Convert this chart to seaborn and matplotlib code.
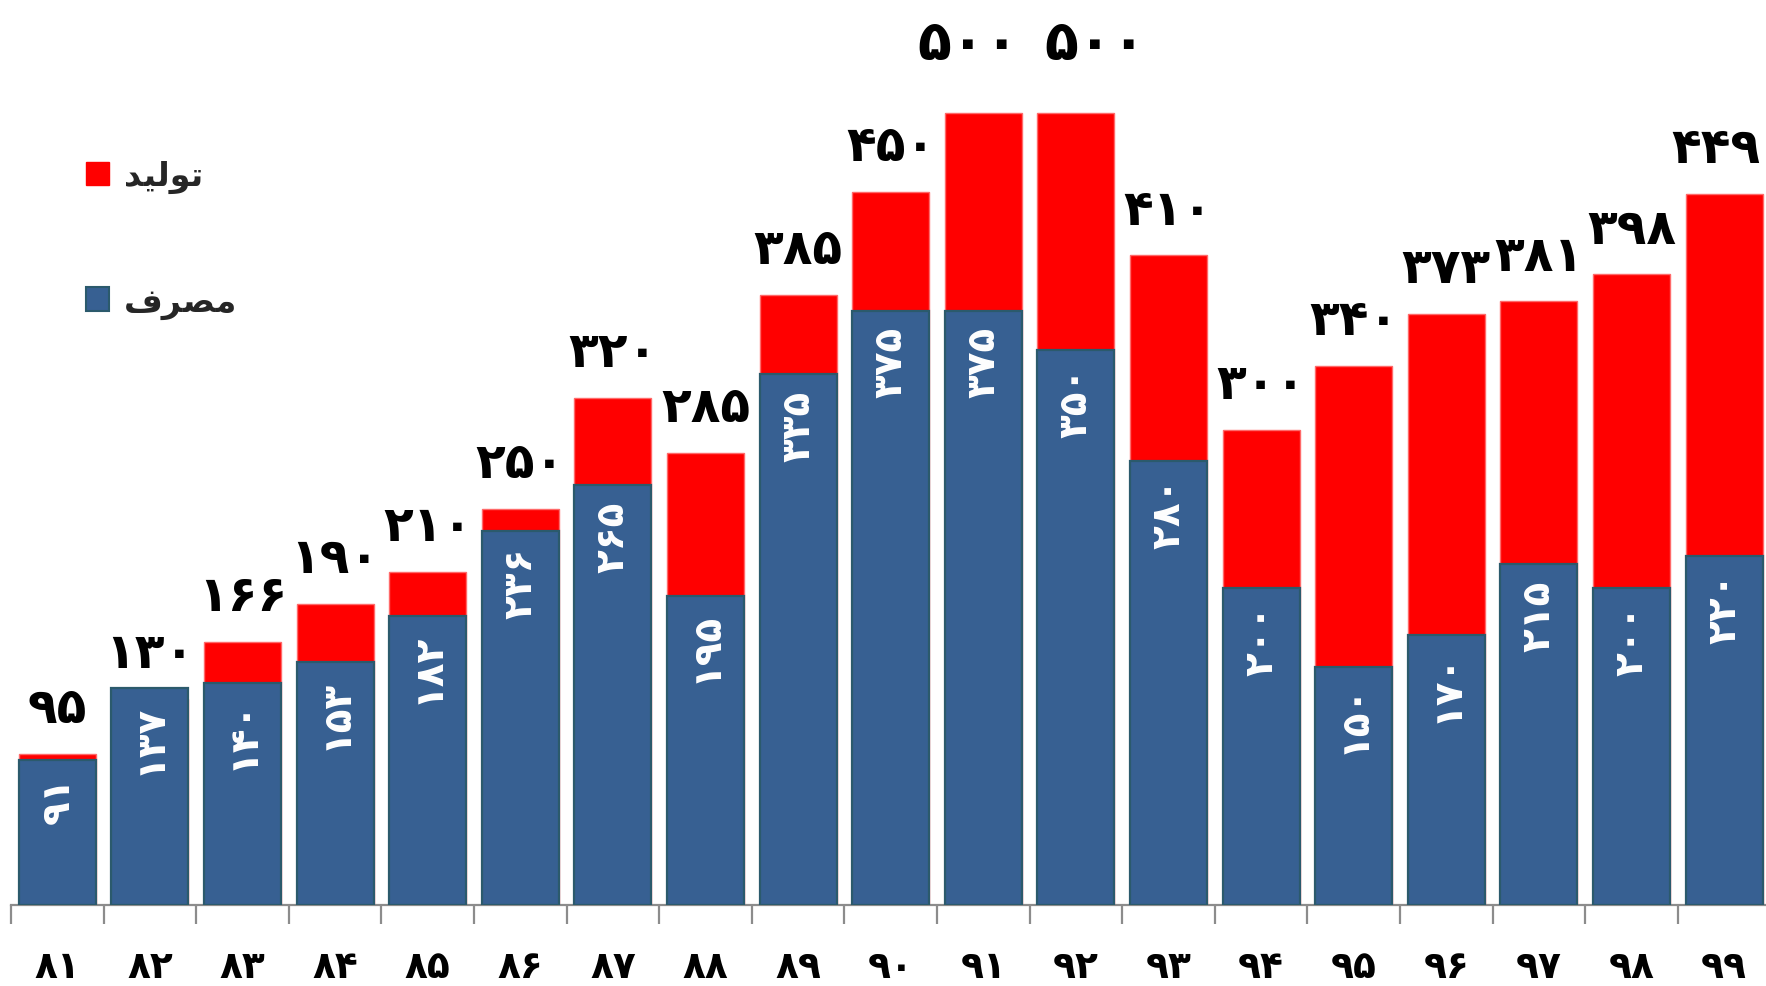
import matplotlib
matplotlib.use("Agg")
import matplotlib.pyplot as plt
from matplotlib.patches import Patch
import seaborn as sns
import pandas as pd

years = [81, 82, 83, 84, 85, 86, 87, 88, 89, 90, 91, 92, 93, 94, 95, 96, 97, 98, 99]
production = [95, 130, 166, 190, 210, 250, 320, 285, 385, 450, 500, 500, 410, 300, 340, 373, 381, 398, 449]
consumption = [91, 137, 140, 153, 182, 236, 265, 195, 335, 375, 375, 350, 280, 200, 150, 170, 215, 200, 220]
# legend labels (Arabic presentation forms in visual order): "تولید" and "مصرف"
label_prod = "\uFEAA\uFEF4\uFEDF\uFEEE\uFE97"
label_cons = "\uFED1\uFEAE\uFEBC\uFEE3"

FA = str.maketrans("0123456789", "\u06F0\u06F1\u06F2\u06F3\u06F4\u06F5\u06F6\u06F7\u06F8\u06F9")
def fa(n):
    return str(n).translate(FA)

cats = [fa(y) for y in years]
df = pd.DataFrame({"year": cats, "prod": production, "cons": consumption})

sns.set_theme(style="white")
plt.rcParams["font.family"] = ["DejaVu Sans"]

W, H = 1766, 987
fig = plt.figure(figsize=(W / 100, H / 100), dpi=100)
ax_left, ax_bottom_px = 11, 905.5
ax_w = 19 * 92.6
ax = fig.add_axes([ax_left / W, (H - ax_bottom_px) / H, ax_w / W, ax_bottom_px / H])

RED = "#FF0000"
BLUE = "#376092"
sns.barplot(data=df, x="year", y="prod", order=cats, color=RED, saturation=1,
            width=0.83, edgecolor="#FF6A6A", linewidth=1, ax=ax, zorder=2)
sns.barplot(data=df, x="year", y="cons", order=cats, color=BLUE, saturation=1,
            width=0.83, edgecolor="#2B5A6C", linewidth=1.6, ax=ax, zorder=3)

ax.set_xlim(-0.5, len(cats) - 0.5)
ax.set_ylim(0, 572)
ax.set_xlabel("")
ax.set_ylabel("")
ax.set_yticks([])
for s in ["left", "right", "top"]:
    ax.spines[s].set_visible(False)
ax.spines["bottom"].set_color("#8C8C8C")
ax.spines["bottom"].set_linewidth(1.6)

ax.set_xticks(range(len(cats)))
ax.set_xticklabels(cats, fontsize=27, fontweight="bold", color="black")
ax.tick_params(axis="x", which="major", length=0, pad=32)
ax.set_xticks([i - 0.5 for i in range(len(cats) + 1)], minor=True)
ax.tick_params(axis="x", which="minor", length=14, width=1.6, color="#8C8C8C", bottom=True)

n = len(production)
for i, (p, c) in enumerate(zip(production, consumption)):
    if p >= 500:
        dx = -11 if i == 10 else 14
        ax.annotate(fa(p), (i, p), xytext=(dx, 50), textcoords="offset points",
                    ha="center", va="center", fontsize=40, fontweight="bold",
                    color="black", annotation_clip=False, zorder=5)
    else:
        dx = -6 if i == n - 1 else 0
        ax.annotate(fa(p), (i, p), xytext=(dx, 33), textcoords="offset points",
                    ha="center", va="center", fontsize=35, fontweight="bold",
                    color="black", annotation_clip=False, zorder=5)
    ax.annotate(fa(c), (i, c), xytext=(0, -11), textcoords="offset points",
                ha="center", va="top", rotation=90, fontsize=28, fontweight="bold",
                color="white", zorder=5)

handles = [Patch(facecolor=RED, edgecolor=RED), Patch(facecolor=BLUE, edgecolor="#2B5A6C", linewidth=1.5)]
fig.legend(handles, [label_prod, label_cons], loc="upper left",
           bbox_to_anchor=(86 / W, 1 - 160 / H), bbox_transform=fig.transFigure,
           frameon=False, prop={"size": 24, "weight": "bold"},
           handlelength=0.7, handleheight=0.7, handletextpad=0.45,
           labelspacing=2.75, borderpad=0, borderaxespad=0)

fig.savefig("out.png", dpi=100)
